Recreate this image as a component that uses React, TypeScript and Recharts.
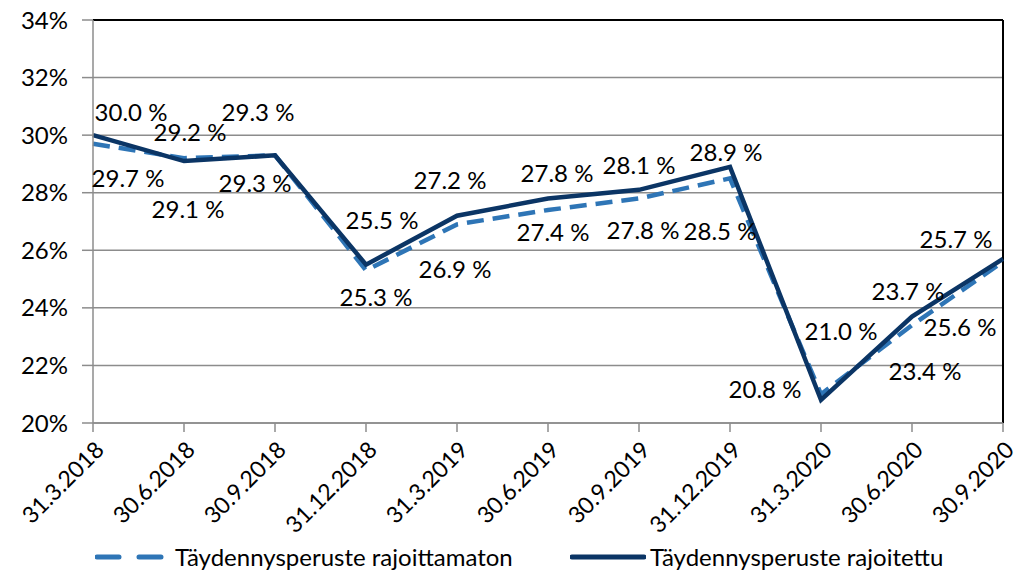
import React from 'react';
import { LineChart, Line, XAxis, YAxis, CartesianGrid, LabelList, Legend, ReferenceLine } from 'recharts';

const categories = ['31.3.2018', '30.6.2018', '30.9.2018', '31.12.2018', '31.3.2019', '30.6.2019', '30.9.2019', '31.12.2019', '31.3.2020', '30.6.2020', '30.9.2020'];
const rajoittamaton = [29.7, 29.2, 29.3, 25.3, 26.9, 27.4, 27.8, 28.5, 21.0, 23.4, 25.6];
const rajoitettu = [30.0, 29.1, 29.3, 25.5, 27.2, 27.8, 28.1, 28.9, 20.8, 23.7, 25.7];
const yTicks = [20, 22, 24, 26, 28, 30, 32, 34];

const NAME_A = 'Täydennysperuste rajoittamaton';
const NAME_B = 'Täydennysperuste rajoitettu';

const COLOR_A = '#2E75B6';
const COLOR_B = '#0B3565';
const FONT = 'Lato, "Open Sans", sans-serif';

// label offsets (dx, dy) from each point, like the excel layout
const OFFSETS_A = [[35, 34], [6, -27], [-20, 27], [10, 26], [-2, 44], [5, 22], [4, 31], [-10, 52], [20, -64], [13, 45], [-43, 65]];
const OFFSETS_B = [[38, -24], [4, 47], [-17, -44], [16, -45], [-7, -36], [9, -26], [0, -25], [-4, -15], [-56, -11], [-4, -26], [-47, -20]];

const data = categories.map((c, i) => ({ date: c, a: rajoittamaton[i], b: rajoitettu[i] }));

const makeLabel = (offsets: number[][]) => (props: any) => {
  const { x, y, index, value } = props;
  const [dx, dy] = offsets[index];
  return (
    <text x={x + dx} y={y + dy} textAnchor="middle" dominantBaseline="central" fontSize={24} fontFamily={FONT} fill="#000">
      {`${Number(value).toFixed(1)} %`}
    </text>
  );
};

const XTick = (props: any) => {
  const { x, y, payload } = props;
  return (
    <text x={x + 6} y={y + 11} transform={`rotate(-45, ${x + 6}, ${y + 11})`} textAnchor="end" dominantBaseline="central" fontSize={23} fontFamily={FONT} fill="#000">
      {payload.value}
    </text>
  );
};

const LegendContent = () => (
  <div style={{ position: 'relative', height: 40, fontFamily: FONT, fontSize: 24, color: '#000' }}>
    <svg width={70} height={10} style={{ position: 'absolute', left: 95, top: 22 }}>
      <line x1={2} y1={5} x2={68} y2={5} stroke={COLOR_A} strokeWidth={5} strokeDasharray="22 20" strokeLinecap="round" />
    </svg>
    <span style={{ position: 'absolute', left: 175, top: 12, lineHeight: '30px', whiteSpace: 'nowrap' }}>{NAME_A}</span>
    <svg width={76} height={10} style={{ position: 'absolute', left: 570, top: 22 }}>
      <line x1={2} y1={5} x2={74} y2={5} stroke={COLOR_B} strokeWidth={5} strokeLinecap="round" />
    </svg>
    <span style={{ position: 'absolute', left: 650, top: 12, lineHeight: '30px', whiteSpace: 'nowrap' }}>{NAME_B}</span>
  </div>
);

export default function App() {
  return (
    <div style={{ position: 'absolute', left: 0, top: 0, background: '#fff' }}>
      <LineChart width={1025} height={570} data={data} margin={{ top: 20, right: 22, left: 0, bottom: 0 }}>
        <CartesianGrid vertical={false} stroke="#8c8c8c" strokeWidth={1.5} />
        <XAxis
          dataKey="date"
          interval={0}
          height={107}
          tick={<XTick />}
          tickSize={9}
          stroke="#8c8c8c"
          strokeWidth={1.5}
        />
        <YAxis
          domain={[20, 34]}
          ticks={yTicks}
          width={93}
          tickFormatter={(v) => `${v}%`}
          tickSize={11}
          tickMargin={14}
          stroke="#8c8c8c"
          strokeWidth={1.5}
          tick={{ fill: '#000', fontSize: 24, fontFamily: FONT }}
        />
        <ReferenceLine y={34} stroke="#000" strokeWidth={2} />
        <ReferenceLine x="30.9.2020" stroke="#000" strokeWidth={2} />
        <Legend verticalAlign="bottom" height={40} content={<LegendContent />} />
        <Line
          dataKey="a"
          name={NAME_A}
          stroke={COLOR_A}
          strokeWidth={4.5}
          strokeDasharray="17 9"
          dot={false}
          isAnimationActive={false}
        >
          <LabelList dataKey="a" content={makeLabel(OFFSETS_A)} />
        </Line>
        <Line
          dataKey="b"
          name={NAME_B}
          stroke={COLOR_B}
          strokeWidth={4.5}
          dot={false}
          isAnimationActive={false}
        >
          <LabelList dataKey="b" content={makeLabel(OFFSETS_B)} />
        </Line>
      </LineChart>
    </div>
  );
}
